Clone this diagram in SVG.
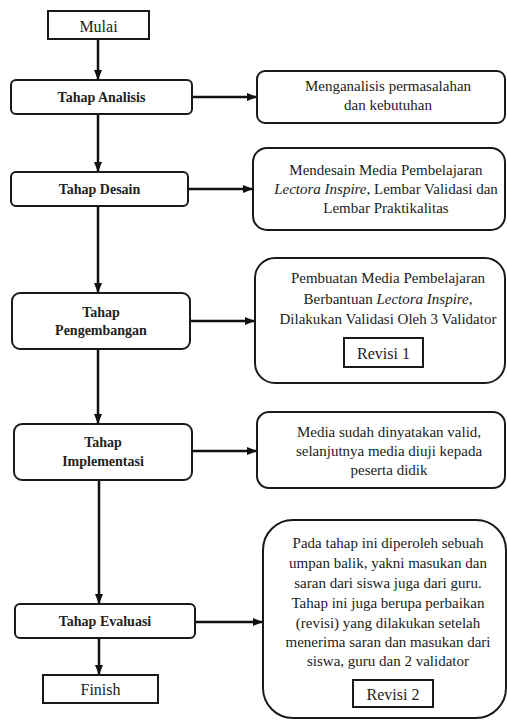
<svg xmlns="http://www.w3.org/2000/svg" width="507" height="722" viewBox="0 0 507 722" font-family="Liberation Serif, Times New Roman, serif">
<style>
.box{fill:#fff;stroke:#1a1a1a;stroke-width:2}
text{fill:#222;text-anchor:middle}
.lbl{font-size:14px;font-weight:bold}
.txt{font-size:15px}
.big{font-size:16px}
.con{fill:none;stroke:#111;stroke-width:2.5;marker-end:url(#ah)}
</style>
<defs>
<marker id="ah" markerUnits="userSpaceOnUse" markerWidth="10" markerHeight="10" viewBox="0 0 10 10" refX="10" refY="5" orient="auto">
<path d="M0,1 L10,5 L0,9 Z" fill="#111"/>
</marker>
</defs>
<rect width="507" height="722" fill="#fff"/>
<g id="connectors">
<line class="con" x1="98" y1="39" x2="98" y2="80"/>
<line class="con" x1="98" y1="114" x2="98" y2="172"/>
<line class="con" x1="98" y1="206" x2="98" y2="293"/>
<line class="con" x1="98" y1="349" x2="98" y2="424"/>
<line class="con" x1="99" y1="480" x2="99" y2="604"/>
<line class="con" x1="99" y1="638" x2="99" y2="675"/>
<line class="con" x1="192" y1="97" x2="257" y2="97"/>
<line class="con" x1="188" y1="189" x2="253" y2="189"/>
<line class="con" x1="190" y1="321" x2="255" y2="321"/>
<line class="con" x1="192" y1="451" x2="257" y2="451"/>
<line class="con" x1="195" y1="622" x2="263" y2="622"/>
</g>
<g id="mulai">
<rect class="box" x="48" y="11" width="101" height="28"/>
<text class="big" x="98.5" y="32" font-family="Liberation Serif, serif">Mulai</text>
</g>
<g id="analisis" font-family="Liberation Serif, serif">
<rect class="box" x="11" y="80" width="181" height="34" rx="5"/>
<text class="lbl" x="101.5" y="102">Tahap Analisis</text>
</g>
<g id="desain" font-family="Liberation Serif, serif">
<rect class="box" x="11" y="172" width="177" height="34" rx="5"/>
<text class="lbl" x="99.5" y="194">Tahap Desain</text>
</g>
<g id="pengembangan" font-family="Liberation Serif, serif">
<rect class="box" x="12" y="293" width="178" height="56" rx="8"/>
<text class="lbl" x="101" y="317">Tahap</text>
<text class="lbl" x="101" y="335">Pengembangan</text>
</g>
<g id="implementasi" font-family="Liberation Serif, serif">
<rect class="box" x="14" y="424" width="178" height="56" rx="8"/>
<text class="lbl" x="103" y="447">Tahap</text>
<text class="lbl" x="103" y="466">Implementasi</text>
</g>
<g id="evaluasi" font-family="Liberation Serif, serif">
<rect class="box" x="15" y="604" width="180" height="34" rx="5"/>
<text class="lbl" x="105" y="626">Tahap Evaluasi</text>
</g>
<g id="finish" font-family="Liberation Serif, serif">
<rect class="box" x="43" y="675" width="115" height="28"/>
<text class="big" x="100.5" y="695">Finish</text>
</g>
<g id="ket-analisis" font-family="Liberation Serif, serif">
<rect class="box" x="257" y="71" width="248" height="52" rx="8"/>
<text class="txt" x="388" y="91">Menganalisis permasalahan</text>
<text class="txt" x="388" y="110">dan kebutuhan</text>
</g>
<g id="ket-desain" font-family="Liberation Serif, serif">
<rect class="box" x="253" y="148" width="252" height="82" rx="14"/>
<text class="txt" x="386" y="175">Mendesain Media Pembelajaran</text>
<text class="txt" x="386" y="194"><tspan font-style="italic">Lectora Inspire</tspan>, Lembar Validasi dan</text>
<text class="txt" x="386" y="213">Lembar Praktikalitas</text>
</g>
<g id="ket-pengembangan" font-family="Liberation Serif, serif">
<rect class="box" x="255" y="258" width="250" height="125" rx="20"/>
<text class="txt" x="388" y="283">Pembuatan Media Pembelajaran</text>
<text class="txt" x="388" y="304">Berbantuan <tspan font-style="italic">Lectora Inspire,</tspan></text>
<text class="txt" x="388" y="324">Dilakukan Validasi Oleh 3 Validator</text>
<rect class="box" x="344" y="338" width="79" height="29"/>
<text class="big" x="383.5" y="359">Revisi 1</text>
</g>
<g id="ket-implementasi" font-family="Liberation Serif, serif">
<rect class="box" x="257" y="412" width="248" height="76" rx="12"/>
<text class="txt" x="389" y="437">Media sudah dinyatakan valid,</text>
<text class="txt" x="389" y="456">selanjutnya media diuji kepada</text>
<text class="txt" x="389" y="475">peserta didik</text>
</g>
<g id="ket-evaluasi" font-family="Liberation Serif, serif">
<rect class="box" x="263" y="520" width="243" height="198" rx="30"/>
<text class="txt" x="388" y="548">Pada tahap ini diperoleh sebuah</text>
<text class="txt" x="388" y="568">umpan balik, yakni masukan dan</text>
<text class="txt" x="388" y="588">saran dari siswa juga dari guru.</text>
<text class="txt" x="388" y="608">Tahap ini juga berupa perbaikan</text>
<text class="txt" x="388" y="628">(revisi) yang dilakukan setelah</text>
<text class="txt" x="388" y="647">menerima saran dan masukan dari</text>
<text class="txt" x="388" y="666">siswa, guru dan 2 validator</text>
<rect class="box" x="353" y="680" width="80" height="27"/>
<text class="big" x="393" y="700">Revisi 2</text>
</g>
</svg>
